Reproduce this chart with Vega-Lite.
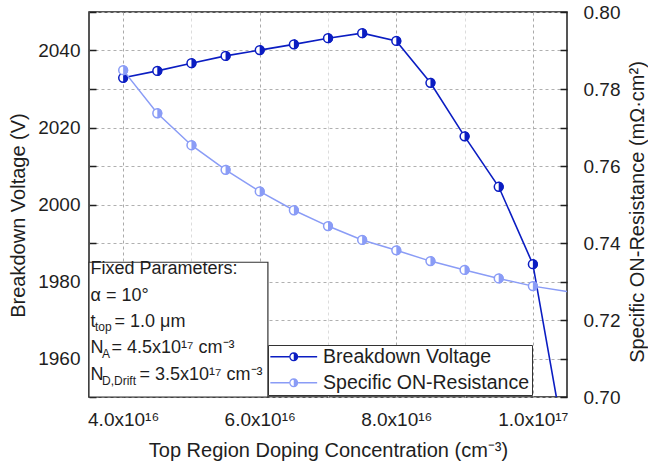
{
  "$schema": "https://vega.github.io/schema/vega-lite/v6.json",
  "width": 478,
  "height": 385,
  "autosize": {"type": "none"},
  "padding": {"left": 89, "top": 12, "right": 81, "bottom": 71},
  "background": "white",
  "config": {
    "view": {"stroke": "#1e1e1e", "strokeWidth": 1.5},
    "font": "Liberation Sans",
    "axis": {"labelFont": "Liberation Sans", "titleFont": "Liberation Sans", "labelColor": "#1e1e1e", "titleColor": "#1e1e1e", "titleFontWeight": "normal"},
    "legend": {"labelFont": "Liberation Sans"}
  },
  "data": {
    "values": [
      {"conc": 4.0e16, "bv": 2032.9, "ron": 0.7849},
      {"conc": 4.5e16, "bv": 2034.7, "ron": 0.7737},
      {"conc": 5.0e16, "bv": 2036.7, "ron": 0.7654},
      {"conc": 5.5e16, "bv": 2038.6, "ron": 0.7590},
      {"conc": 6.0e16, "bv": 2040.1, "ron": 0.7534},
      {"conc": 6.5e16, "bv": 2041.6, "ron": 0.7485},
      {"conc": 7.0e16, "bv": 2043.2, "ron": 0.7444},
      {"conc": 7.5e16, "bv": 2044.5, "ron": 0.7408},
      {"conc": 8.0e16, "bv": 2042.5, "ron": 0.7381},
      {"conc": 8.5e16, "bv": 2031.6, "ron": 0.7353},
      {"conc": 9.0e16, "bv": 2017.7, "ron": 0.7330},
      {"conc": 9.5e16, "bv": 2004.6, "ron": 0.7308},
      {"conc": 1.0e17, "bv": 1984.5, "ron": 0.7288},
      {"conc": 1.05e17, "bv": 1934.4, "ron": 0.7274}
    ]
  },
  "layer": [
    {
      "mark": {"type": "line", "clip": true, "strokeWidth": 1.6},
      "encoding": {
        "x": {
          "field": "conc", "type": "quantitative",
          "scale": {"domain": [3.5e16, 1.05e17], "nice": false, "zero": false},
          "axis": {
            "values": [4e16, 5e16, 6e16, 7e16, 8e16, 9e16, 1e17],
            "labelExpr": "datum.value == 1e17 ? '1.0x10¹⁷' : (datum.value % 2e16 == 0 ? format(datum.value / 1e16, '.1f') + 'x10¹⁶' : '')",
            "labelFlush": false,
            "grid": true,
            "gridDash": [3, 3],
            "gridWidth": 1,
            "gridColor": {"condition": {"test": "datum.value % 2e16 == 0", "value": "#aaaaaa"}, "value": "#dcdcdc"},
            "ticks": false,
            "domain": false,
            "labelPadding": 13,
            "labelFontSize": 19,
            "title": "Top Region Doping Concentration (cm⁻³)",
            "titleFontSize": 20,
            "titleBaseline": "alphabetic",
            "titleY": 59
          }
        },
        "y": {
          "field": "bv", "type": "quantitative",
          "scale": {"domain": [1950, 2050], "nice": false, "zero": false},
          "axis": {
            "orient": "left",
            "values": [1950, 1960, 1970, 1980, 1990, 2000, 2010, 2020, 2030, 2040, 2050],
            "labelExpr": "datum.value % 20 == 0 ? format(datum.value, 'd') : ''",
            "labelOverlap": false,
            "grid": true,
            "gridDash": [3, 3],
            "gridColor": "#b0b0b0",
            "gridWidth": 1,
            "tickSize": -7,
            "tickWidth": 1.5,
            "tickColor": "#1e1e1e",
            "domain": false,
            "labelPadding": 16,
            "labelFontSize": 19,
            "title": "Breakdown Voltage (V)",
            "titleFontSize": 20,
            "titleAngle": -90,
            "titleBaseline": "alphabetic",
            "titleAlign": "center",
            "titleX": -65,
            "titleY": 203
          }
        },
        "color": {
          "datum": "Breakdown Voltage",
          "type": "nominal",
          "scale": {"domain": ["Breakdown Voltage", "Specific ON-Resistance"], "range": ["#0b1dc2", "#8a9cf6"]},
          "legend": {
            "title": null,
            "orient": "none",
            "legendX": 179,
            "legendY": 333,
            "direction": "vertical",
            "fillColor": "white",
            "strokeColor": "#333333",
            "padding": 2,
            "symbolType": "M-5.2,-0.17L-1,-0.17L-1,0.17L-5.2,0.17Z M1,-0.17L5.2,-0.17L5.2,0.17L1,0.17Z M0,-1A1,1,0,0,1,0,1Z M0,-1A1,1,0,0,0,0,1L0,0.73A0.73,0.73,0,0,1,0,-0.73Z",
            "symbolSize": 81,
            "symbolOffset": 14,
            "labelOffset": 19.6,
            "labelFontSize": 19.5,
            "labelColor": "#1e1e1e",
            "labelLimit": 300,
            "rowPadding": 5,
            "zindex": 1,
            "encode": {
              "symbols": {
                "update": {
                  "fill": {"scale": "color", "field": "value"},
                  "stroke": {"scale": "color", "field": "value"},
                  "strokeWidth": {"value": 0},
                  "opacity": {"value": 1}
                }
              }
            }
          }
        }
      }
    },
    {
      "transform": [{"filter": "datum.conc <= 1e17"}],
      "mark": {"type": "point", "shape": "circle", "filled": false, "fill": "white", "fillOpacity": 1, "opacity": 1, "size": 78, "strokeWidth": 1.5},
      "encoding": {
        "x": {"field": "conc", "type": "quantitative"},
        "y": {"field": "bv", "type": "quantitative", "scale": {"domain": [1950, 2050], "nice": false, "zero": false}, "axis": null},
        "color": {"datum": "Breakdown Voltage", "type": "nominal"}
      }
    },
    {
      "transform": [{"filter": "datum.conc <= 1e17"}],
      "mark": {"type": "point", "shape": "M0,-1A1,1,0,0,1,0,1Z", "filled": true, "opacity": 1, "size": 100, "strokeWidth": 0},
      "encoding": {
        "x": {"field": "conc", "type": "quantitative"},
        "y": {"field": "bv", "type": "quantitative", "scale": {"domain": [1950, 2050], "nice": false, "zero": false}, "axis": null},
        "color": {"datum": "Breakdown Voltage", "type": "nominal"}
      }
    },
    {
      "mark": {"type": "line", "clip": true, "strokeWidth": 1.5},
      "encoding": {
        "x": {"field": "conc", "type": "quantitative"},
        "y": {
          "field": "ron", "type": "quantitative",
          "scale": {"domain": [0.7, 0.8], "nice": false, "zero": false},
          "axis": {
            "orient": "right",
            "values": [0.70, 0.71, 0.72, 0.73, 0.74, 0.75, 0.76, 0.77, 0.78, 0.79, 0.80],
            "labelExpr": "round(datum.value * 100) % 2 == 0 ? format(datum.value, '.2f') : ''",
            "labelOverlap": false,
            "grid": false,
            "tickSize": -7,
            "tickWidth": 1.5,
            "tickColor": "#1e1e1e",
            "domain": false,
            "labelPadding": 23,
            "labelFontSize": 19,
            "title": "Specific ON-Resistance (mΩ·cm²)",
            "titleFontSize": 20,
            "titleAngle": -90,
            "titleBaseline": "alphabetic",
            "titleAlign": "center",
            "titleX": 76.5,
            "titleY": 199.5
          }
        },
        "color": {"datum": "Specific ON-Resistance", "type": "nominal"}
      }
    },
    {
      "transform": [{"filter": "datum.conc <= 1e17"}],
      "mark": {"type": "point", "shape": "circle", "filled": false, "fill": "white", "fillOpacity": 1, "opacity": 1, "size": 78, "strokeWidth": 1.5},
      "encoding": {
        "x": {"field": "conc", "type": "quantitative"},
        "y": {"field": "ron", "type": "quantitative", "scale": {"domain": [0.7, 0.8], "nice": false, "zero": false}, "axis": null},
        "color": {"datum": "Specific ON-Resistance", "type": "nominal"}
      }
    },
    {
      "transform": [{"filter": "datum.conc <= 1e17"}],
      "mark": {"type": "point", "shape": "M0,-1A1,1,0,0,1,0,1Z", "filled": true, "opacity": 1, "size": 100, "strokeWidth": 0},
      "encoding": {
        "x": {"field": "conc", "type": "quantitative"},
        "y": {"field": "ron", "type": "quantitative", "scale": {"domain": [0.7, 0.8], "nice": false, "zero": false}, "axis": null},
        "color": {"datum": "Specific ON-Resistance", "type": "nominal"}
      }
    },
    {
      "data": {"values": [{}]},
      "mark": {"type": "rect", "fill": "white", "stroke": "#333333", "strokeWidth": 1.2},
      "encoding": {
        "x": {"datum": 3.5e16, "type": "quantitative"},
        "x2": {"datum": 6.12e16},
        "y": {"datum": 1985, "type": "quantitative", "scale": {"domain": [1950, 2050], "nice": false, "zero": false}, "axis": null},
        "y2": {"datum": 1950}
      }
    },
    {
      "data": {"values": [{}]},
      "mark": {"type": "text", "text": "Fixed Parameters:", "align": "left", "baseline": "alphabetic", "fontSize": 18, "dx": 1.5, "color": "#1e1e1e"},
      "encoding": {"x": {"datum": 3.5e16, "type": "quantitative"}, "y": {"datum": 1981.9, "type": "quantitative", "scale": {"domain": [1950, 2050], "nice": false, "zero": false}, "axis": null}}
    },
    {
      "data": {"values": [{}]},
      "mark": {"type": "text", "text": "α = 10°", "align": "left", "baseline": "alphabetic", "fontSize": 18, "dx": 1.5, "color": "#1e1e1e"},
      "encoding": {"x": {"datum": 3.5e16, "type": "quantitative"}, "y": {"datum": 1975.0, "type": "quantitative", "scale": {"domain": [1950, 2050], "nice": false, "zero": false}, "axis": null}}
    },
    {
      "data": {"values": [{}]},
      "mark": {"type": "text", "text": "t", "align": "left", "baseline": "alphabetic", "fontSize": 18, "dx": 1.5, "color": "#1e1e1e"},
      "encoding": {"x": {"datum": 3.5e16, "type": "quantitative"}, "y": {"datum": 1968.2, "type": "quantitative", "scale": {"domain": [1950, 2050], "nice": false, "zero": false}, "axis": null}}
    },
    {
      "data": {"values": [{}]},
      "mark": {"type": "text", "text": "top", "align": "left", "baseline": "alphabetic", "fontSize": 12, "dx": 6, "dy": 4, "color": "#1e1e1e"},
      "encoding": {"x": {"datum": 3.5e16, "type": "quantitative"}, "y": {"datum": 1968.2, "type": "quantitative", "scale": {"domain": [1950, 2050], "nice": false, "zero": false}, "axis": null}}
    },
    {
      "data": {"values": [{}]},
      "mark": {"type": "text", "text": "= 1.0 μm", "align": "left", "baseline": "alphabetic", "fontSize": 18, "dx": 25.5, "color": "#1e1e1e"},
      "encoding": {"x": {"datum": 3.5e16, "type": "quantitative"}, "y": {"datum": 1968.2, "type": "quantitative", "scale": {"domain": [1950, 2050], "nice": false, "zero": false}, "axis": null}}
    },
    {
      "data": {"values": [{}]},
      "mark": {"type": "text", "text": "N", "align": "left", "baseline": "alphabetic", "fontSize": 18, "dx": 1.5, "color": "#1e1e1e"},
      "encoding": {"x": {"datum": 3.5e16, "type": "quantitative"}, "y": {"datum": 1961.3, "type": "quantitative", "scale": {"domain": [1950, 2050], "nice": false, "zero": false}, "axis": null}}
    },
    {
      "data": {"values": [{}]},
      "mark": {"type": "text", "text": "A", "align": "left", "baseline": "alphabetic", "fontSize": 12, "dx": 13, "dy": 5, "color": "#1e1e1e"},
      "encoding": {"x": {"datum": 3.5e16, "type": "quantitative"}, "y": {"datum": 1961.3, "type": "quantitative", "scale": {"domain": [1950, 2050], "nice": false, "zero": false}, "axis": null}}
    },
    {
      "data": {"values": [{}]},
      "mark": {"type": "text", "text": "= 4.5x10¹⁷ cm⁻³", "align": "left", "baseline": "alphabetic", "fontSize": 18, "dx": 22.5, "color": "#1e1e1e"},
      "encoding": {"x": {"datum": 3.5e16, "type": "quantitative"}, "y": {"datum": 1961.3, "type": "quantitative", "scale": {"domain": [1950, 2050], "nice": false, "zero": false}, "axis": null}}
    },
    {
      "data": {"values": [{}]},
      "mark": {"type": "text", "text": "N", "align": "left", "baseline": "alphabetic", "fontSize": 18, "dx": 1.5, "color": "#1e1e1e"},
      "encoding": {"x": {"datum": 3.5e16, "type": "quantitative"}, "y": {"datum": 1954.4, "type": "quantitative", "scale": {"domain": [1950, 2050], "nice": false, "zero": false}, "axis": null}}
    },
    {
      "data": {"values": [{}]},
      "mark": {"type": "text", "text": "D,Drift", "align": "left", "baseline": "alphabetic", "fontSize": 12, "dx": 13, "dy": 5, "color": "#1e1e1e"},
      "encoding": {"x": {"datum": 3.5e16, "type": "quantitative"}, "y": {"datum": 1954.4, "type": "quantitative", "scale": {"domain": [1950, 2050], "nice": false, "zero": false}, "axis": null}}
    },
    {
      "data": {"values": [{}]},
      "mark": {"type": "text", "text": "= 3.5x10¹⁷ cm⁻³", "align": "left", "baseline": "alphabetic", "fontSize": 18, "dx": 50.5, "color": "#1e1e1e"},
      "encoding": {"x": {"datum": 3.5e16, "type": "quantitative"}, "y": {"datum": 1954.4, "type": "quantitative", "scale": {"domain": [1950, 2050], "nice": false, "zero": false}, "axis": null}}
    }
  ],
  "resolve": {"scale": {"y": "independent"}, "axis": {"y": "independent"}}
}
